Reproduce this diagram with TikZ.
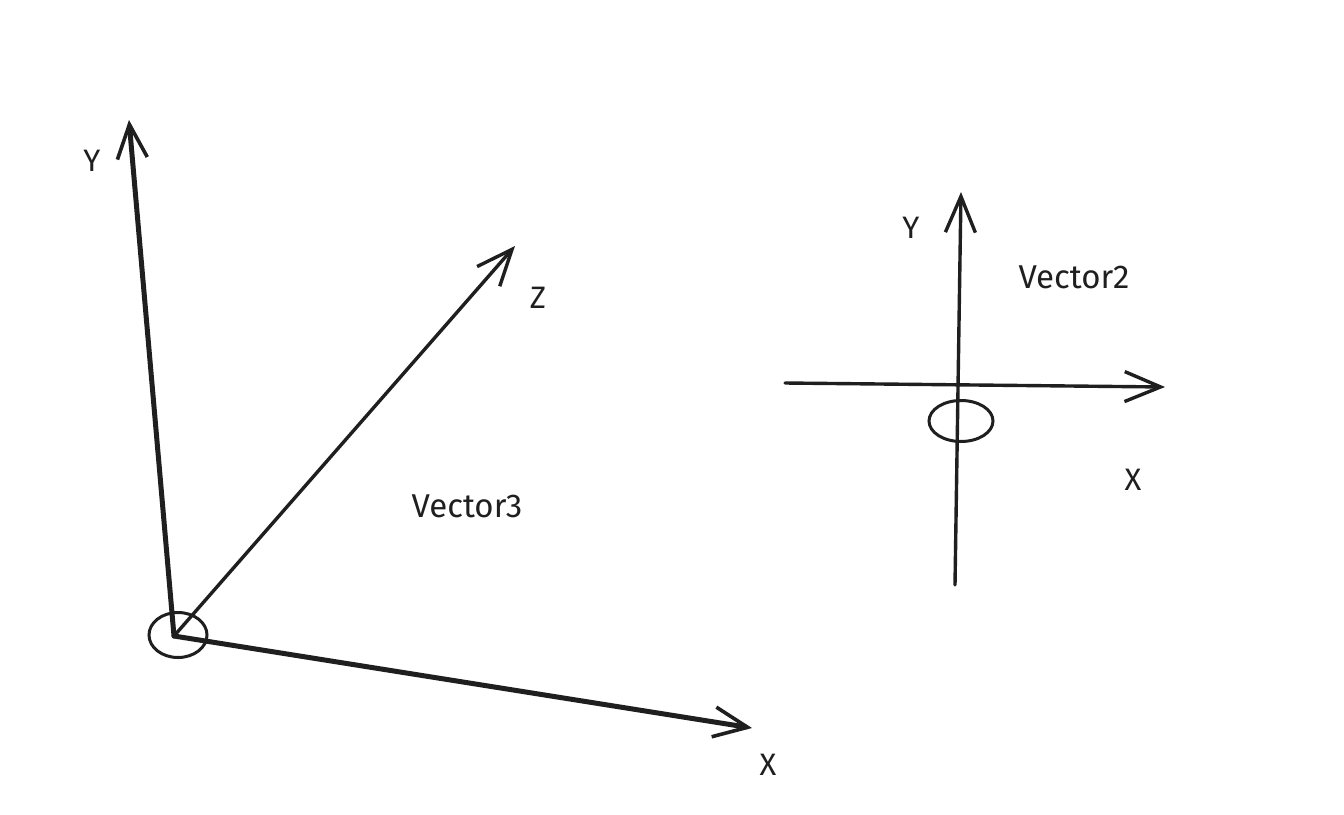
\documentclass[tikz,border=0pt]{standalone}
\usepackage{fontspec}
\setmainfont{Fira Sans}
\usetikzlibrary{arrows.meta,shapes.geometric}
\tikzset{
  axis/.style={line width=5pt, color=black!88, line cap=round,
    -{Straight Barb[length=34pt,width=30pt,line width=3.6pt]}},
  thinaxis/.style={line width=3.4pt, color=black!88, line cap=round,
    -{Straight Barb[length=36pt,width=30pt,line width=3.4pt]}},
  ring/.style={ellipse, draw=black!88, line width=3pt, inner sep=0pt},
  lbl/.style={font=\fontsize{31}{34}\selectfont, text=black!88, inner sep=0pt},
  vname/.style={font=\fontsize{33}{38}\selectfont, text=black!88, inner sep=0pt},
}
\begin{document}
\begin{tikzpicture}[x=1pt,y=-1pt]
\useasboundingbox (0,0) rectangle (1344,814);
% left 3D axes
\coordinate (o3) at (174,636);
\coordinate (y3) at (129,120);
\coordinate (x3) at (752,728);
\coordinate (z3) at (515,246);
\draw[axis] (o3) -- (y3);
\draw[axis] (o3) -- (x3);
\draw[thinaxis] (o3) -- (z3);
\node[ring, minimum width=58pt, minimum height=45pt] (c3) at (178,635) {};
\node[lbl] (ly3) at (92,161) {Y};
\node[lbl] (lz3) at (538,298) {Z};
\node[lbl] (lx3) at (768,765) {X};
\node[vname] (lv3) at (467,506) {Vector3};
% right 2D axes
\coordinate (yb) at (955,585);
\coordinate (yt) at (961,192);
\coordinate (xl) at (785,383);
\coordinate (xr) at (1165,387);
\draw[thinaxis] (yb) -- (yt);
\draw[thinaxis] (xl) -- (xr);
\node[ring, minimum width=64pt, minimum height=41pt] (c2) at (961,421) {};
\node[lbl] (ly2) at (911,228) {Y};
\node[vname] (lv2) at (1074,277) {Vector2};
\node[lbl] (lx2) at (1133,480) {X};
\end{tikzpicture}
\end{document}
